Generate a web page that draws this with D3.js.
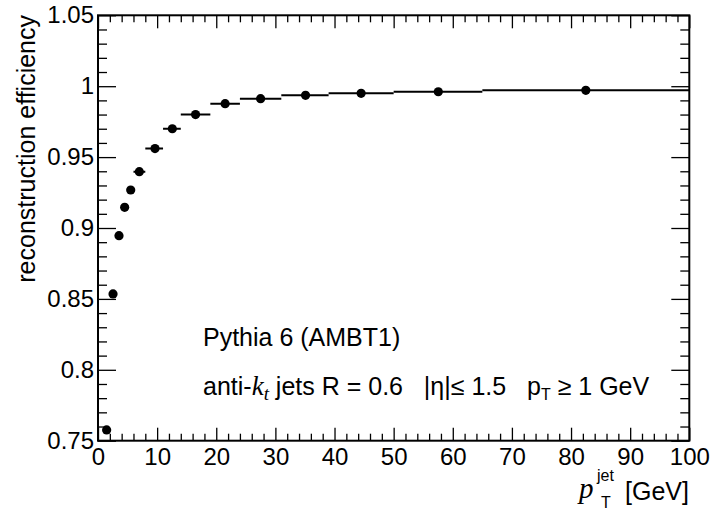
<!DOCTYPE html>
<html><head><meta charset="utf-8">
<script src="https://cdn.jsdelivr.net/npm/d3@7"></script>
<style>body{margin:0;background:#fff}svg{display:block}text{font-family:"Liberation Sans",Arial,sans-serif;fill:#000}</style>
</head><body><svg id="c" width="714" height="512"></svg>
<script>
const ptMean = [1.46, 2.54, 3.55, 4.51, 5.53, 6.99, 9.64, 12.57, 16.5, 21.5, 27.5, 35.1, 44.5, 57.55, 82.5];
const efficiency = [0.7576, 0.8535, 0.8946, 0.9146, 0.9268, 0.9397, 0.956, 0.970, 0.980, 0.9877, 0.9912, 0.9936, 0.995, 0.9961, 0.9971];
const binLow = [1, 2, 3, 4, 5, 6, 8, 11, 14, 19, 24, 31, 39, 50, 65];
const binHigh = [2, 3, 4, 5, 6, 8, 11, 14, 19, 24, 31, 39, 50, 65, 100];
const xTicks = [0, 10, 20, 30, 40, 50, 60, 70, 80, 90, 100];
const yTicks = [0.75, 0.8, 0.85, 0.9, 0.95, 1, 1.05];
const yTickLabels = ["0.75", "0.8", "0.85", "0.9", "0.95", "1", "1.05"];

const W = 714, H = 512;
const m = {l: 98, r: 24.7, t: 15.3, b: 71.3};
const svg = d3.select("#c");
const x = d3.scaleLinear().domain([0, 100]).range([m.l, W - m.r]);
const y = d3.scaleLinear().domain([0.75, 1.05]).range([H - m.b, m.t]);
const xMinor = d3.range(0, 101, 2).filter(v => v % 10 !== 0);
const yMinor = d3.range(75, 106, 1).map(v => v / 100).filter((v, i) => (i % 5) !== 0);

const fs = 24, ft = 25;
function styleAxis(g){ g.select(".domain").remove(); g.selectAll("line").attr("stroke","#000").attr("stroke-width",1.3); }

// bottom
svg.append("g").attr("transform",`translate(0,${H-m.b})`)
  .call(d3.axisTop(x).tickValues(xTicks).tickSize(13).tickFormat(""))
  .call(styleAxis);
svg.append("g").attr("transform",`translate(0,${H-m.b})`)
  .call(d3.axisTop(x).tickValues(xMinor).tickSize(7).tickFormat(""))
  .call(styleAxis);
svg.append("g").attr("transform",`translate(0,${H-m.b})`)
  .call(d3.axisBottom(x).tickValues(xTicks).tickSize(0).tickPadding(6).tickFormat(d3.format("d")))
  .call(g=>{g.select(".domain").remove(); g.selectAll("text").attr("font-size",fs).attr("font-family","Liberation Sans").attr("dy","0.75em");});
// top
svg.append("g").attr("transform",`translate(0,${m.t})`)
  .call(d3.axisBottom(x).tickValues(xTicks).tickSize(13).tickFormat("")).call(styleAxis);
svg.append("g").attr("transform",`translate(0,${m.t})`)
  .call(d3.axisBottom(x).tickValues(xMinor).tickSize(7).tickFormat("")).call(styleAxis);
// left
svg.append("g").attr("transform",`translate(${m.l},0)`)
  .call(d3.axisRight(y).tickValues(yTicks).tickSize(18).tickFormat("")).call(styleAxis);
svg.append("g").attr("transform",`translate(${m.l},0)`)
  .call(d3.axisRight(y).tickValues(yMinor).tickSize(9).tickFormat("")).call(styleAxis);
svg.append("g").attr("transform",`translate(${m.l},0)`)
  .call(d3.axisLeft(y).tickValues(yTicks).tickSize(0).tickPadding(4).tickFormat((d,i)=>yTickLabels[i]))
  .call(g=>{g.select(".domain").remove(); g.selectAll("text").attr("font-size",fs).attr("font-family","Liberation Sans");});
// right
svg.append("g").attr("transform",`translate(${W-m.r},0)`)
  .call(d3.axisLeft(y).tickValues(yTicks).tickSize(18).tickFormat("")).call(styleAxis);
svg.append("g").attr("transform",`translate(${W-m.r},0)`)
  .call(d3.axisLeft(y).tickValues(yMinor).tickSize(9).tickFormat("")).call(styleAxis);

// frame
svg.append("rect").attr("x",m.l).attr("y",m.t).attr("width",W-m.l-m.r).attr("height",H-m.t-m.b)
  .attr("fill","none").attr("stroke","#000").attr("stroke-width",2);

// data
svg.append("clipPath").attr("id","clip").append("rect")
  .attr("x",m.l).attr("y",m.t).attr("width",W-m.l-m.r).attr("height",H-m.t-m.b);
const data = ptMean.map((p,i)=>({p, e: efficiency[i], lo: binLow[i], hi: binHigh[i]}));
const dg = svg.append("g").attr("clip-path","url(#clip)");
dg.selectAll("line.eb").data(data).join("line").attr("class","eb")
  .attr("x1",d=>x(d.lo)).attr("x2",d=>x(d.hi)).attr("y1",d=>y(d.e)).attr("y2",d=>y(d.e))
  .attr("stroke","#000").attr("stroke-width",2);
dg.selectAll("circle").data(data).join("circle")
  .attr("cx",d=>x(d.p)).attr("cy",d=>y(d.e)).attr("r",4.6).attr("fill","#000");

// y title
svg.append("text").attr("transform","translate(35,15) rotate(-90)").attr("text-anchor","end")
  .attr("font-size",ft).text("reconstruction efficiency");

// x title
svg.append("text").attr("x",689).attr("y",500).attr("text-anchor","end").attr("font-size",ft).text("[GeV]");
svg.append("text").attr("x",579).attr("y",498).attr("font-size",29).attr("font-style","italic")
  .style("font-family","'Liberation Serif',serif").text("p");
svg.append("text").attr("x",597).attr("y",481).attr("font-size",16).text("jet");
svg.append("text").attr("x",601).attr("y",508).attr("font-size",16).text("T");

// annotations
svg.append("text").attr("x",203).attr("y",346).attr("font-size",ft).text("Pythia 6 (AMBT1)");
const t2 = svg.append("text").attr("x",203).attr("y",395).attr("font-size",ft).style("white-space","pre");
t2.append("tspan").text("anti-");
t2.append("tspan").style("font-family","'Liberation Serif',serif").attr("font-style","italic").attr("font-size",27).text("k");
t2.append("tspan").style("font-family","'Liberation Serif',serif").attr("font-style","italic").attr("font-size",19).attr("dy",5).text("t");
t2.append("tspan").attr("dy",-5).text(" jets R = 0.6   |η|≤ 1.5   p");
t2.append("tspan").attr("font-size",16).attr("dy",5).text("T");
t2.append("tspan").attr("dy",-5).text(" ≥ 1 GeV");
</script></body></html>
